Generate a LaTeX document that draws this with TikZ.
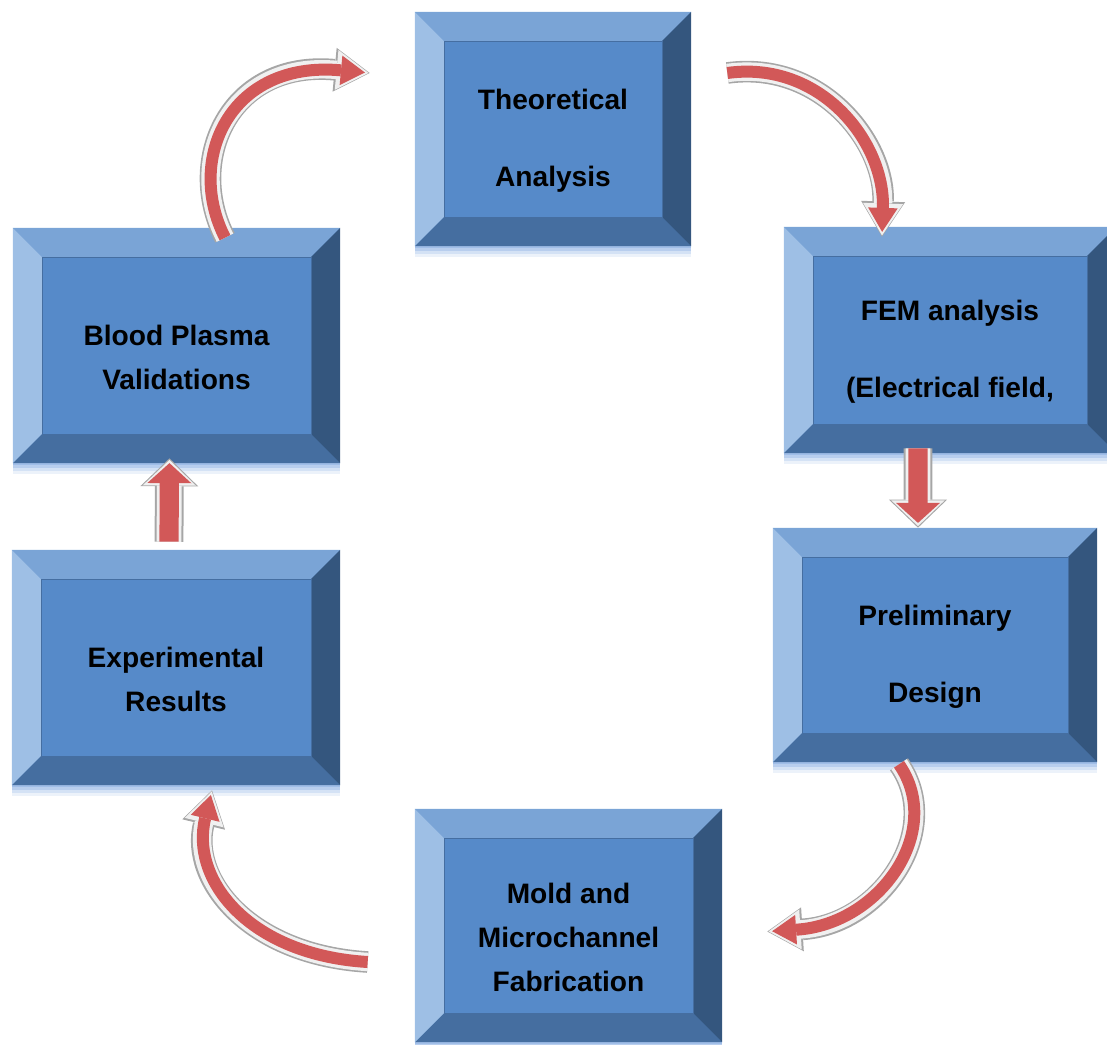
\documentclass[tikz,border=0pt]{standalone}
\usepackage{fontspec}
\setmainfont{Liberation Sans}
\usetikzlibrary{arrows.meta,positioning,calc}
\definecolor{facecol}{RGB}{86,138,201}
\definecolor{topcol}{RGB}{122,164,214}
\definecolor{leftcol}{RGB}{158,191,229}
\definecolor{bottomcol}{RGB}{69,110,160}
\definecolor{rightcol}{RGB}{52,86,126}
\definecolor{glowcol}{RGB}{160,190,232}
\definecolor{arrowred}{RGB}{210,88,88}
\newcommand\bev{0.725cm}
\newcommand\stagefont{\fontsize{20}{31}\selectfont\bfseries}
\tikzset{stage/.style={inner sep=0pt,
   preaction={fill=glowcol!20,transform canvas={yshift=-0.28cm}},
   preaction={fill=glowcol!45,transform canvas={yshift=-0.2cm}},
   preaction={fill=glowcol!75,transform canvas={yshift=-0.12cm}},
   preaction={fill=glowcol,transform canvas={yshift=-0.05cm}},
   path picture={
     \coordinate (pnw) at (path picture bounding box.north west);
     \coordinate (pne) at (path picture bounding box.north east);
     \coordinate (psw) at (path picture bounding box.south west);
     \coordinate (pse) at (path picture bounding box.south east);
     \fill[facecol] (psw) rectangle (pne);
     \fill[topcol] (pnw) -- (pne) -- ([shift={(-\bev,-\bev)}]pne) -- ([shift={(\bev,-\bev)}]pnw) -- cycle;
     \fill[bottomcol] (psw) -- (pse) -- ([shift={(-\bev,\bev)}]pse) -- ([shift={(\bev,\bev)}]psw) -- cycle;
     \fill[leftcol] (pnw) -- (psw) -- ([shift={(\bev,\bev)}]psw) -- ([shift={(\bev,-\bev)}]pnw) -- cycle;
     \fill[rightcol] (pne) -- (pse) -- ([shift={(-\bev,\bev)}]pse) -- ([shift={(-\bev,-\bev)}]pne) -- cycle;
     \draw[facecol!80!black,line width=0.4pt] ([shift={(\bev,\bev)}]psw) rectangle ([shift={(-\bev,-\bev)}]pne);
   }},
  caption/.style={font=\stagefont,align=center,yshift=-0.3cm},
  curvearrow/.style={draw=arrowred,line width=0.3cm,shorten >=0.12cm,
   -{Triangle[length=0.6cm,width=0.74cm,line width=0pt]},
   preaction={draw=gray!70,line width=0.54cm,shorten >=0pt,
     -{Triangle[length=0.88cm,width=1.1cm,line width=0pt]}},
   preaction={draw=gray!12,line width=0.46cm,shorten >=0.03cm,
     -{Triangle[length=0.8cm,width=1.0cm,line width=0pt]}}},
  pipe/.style={draw=arrowred,line width=0.48cm,shorten >=0.12cm,
   -{Triangle[length=0.5cm,width=1.1cm,line width=0pt]},
   preaction={draw=gray!70,line width=0.72cm,shorten >=0pt,
     -{Triangle[length=0.7cm,width=1.45cm,line width=0pt]}},
   preaction={draw=gray!12,line width=0.62cm,shorten >=0.04cm,
     -{Triangle[length=0.64cm,width=1.33cm,line width=0pt]}}}}
\begin{document}
\begin{tikzpicture}[x=0.025cm,y=-0.025cm]
\useasboundingbox (0,0) rectangle (1107,1045);
\clip (0,0) rectangle (1107,1045);
\node[stage,minimum width=6.9cm,minimum height=5.85cm,
  label={[caption]center:{Theoretical\\[23.5pt]Analysis}}] (theo) at (553,129) {};
\node[stage,minimum width=8.3cm,minimum height=5.65cm,
  label={[caption]center:{FEM analysis\\[23.5pt](Electrical field,}}] (fem) at (950,340) {};
\node[stage,minimum width=8.1cm,minimum height=5.85cm,
  label={[caption]center:{Preliminary\\[23.5pt]Design}}] (prelim) at (935,645) {};
\node[stage,minimum width=7.675cm,minimum height=5.825cm,
  label={[caption]center:{Mold and\\Microchannel\\Fabrication}}] (mold) at (568.5,925.5) {};
\node[stage,minimum width=8.2cm,minimum height=5.875cm,
  label={[caption]center:{Experimental\\Results}}] (exper) at (176,667.5) {};
\node[stage,minimum width=8.175cm,minimum height=5.875cm,
  label={[caption]center:{Blood Plasma\\Validations}}] (blood) at (176.5,345.5) {};
\draw[curvearrow] ([shift={(48.5,10)}]blood.north) .. controls +(-40,-78) and +(-140,-13) .. ([shift={(-45,-56)}]theo.west);
\draw[curvearrow] ([shift={(36,-56)}]theo.east) .. controls +(93,-13) and +(3,-95) .. ([shift={(-68,10)}]fem.north);
\draw[pipe] ([shift={(-32,-5)}]fem.south) -- ([xshift=-0.8cm]fem.south |- prelim.north);
\draw[curvearrow] ([shift={(-36,2)}]prelim.south) .. controls +(46,66) and +(113,-7) .. ([shift={(45,6)}]mold.east);
\draw[curvearrow] ([shift={(-47,36.5)}]mold.west) .. controls +(-118,-7) and +(-22,90) .. ([shift={(36,5)}]exper.south);
\draw[pipe] ([shift={(-7,-8)}]exper.north) -- ([shift={(-7,-5)}]blood.south);
\end{tikzpicture}
\end{document}
